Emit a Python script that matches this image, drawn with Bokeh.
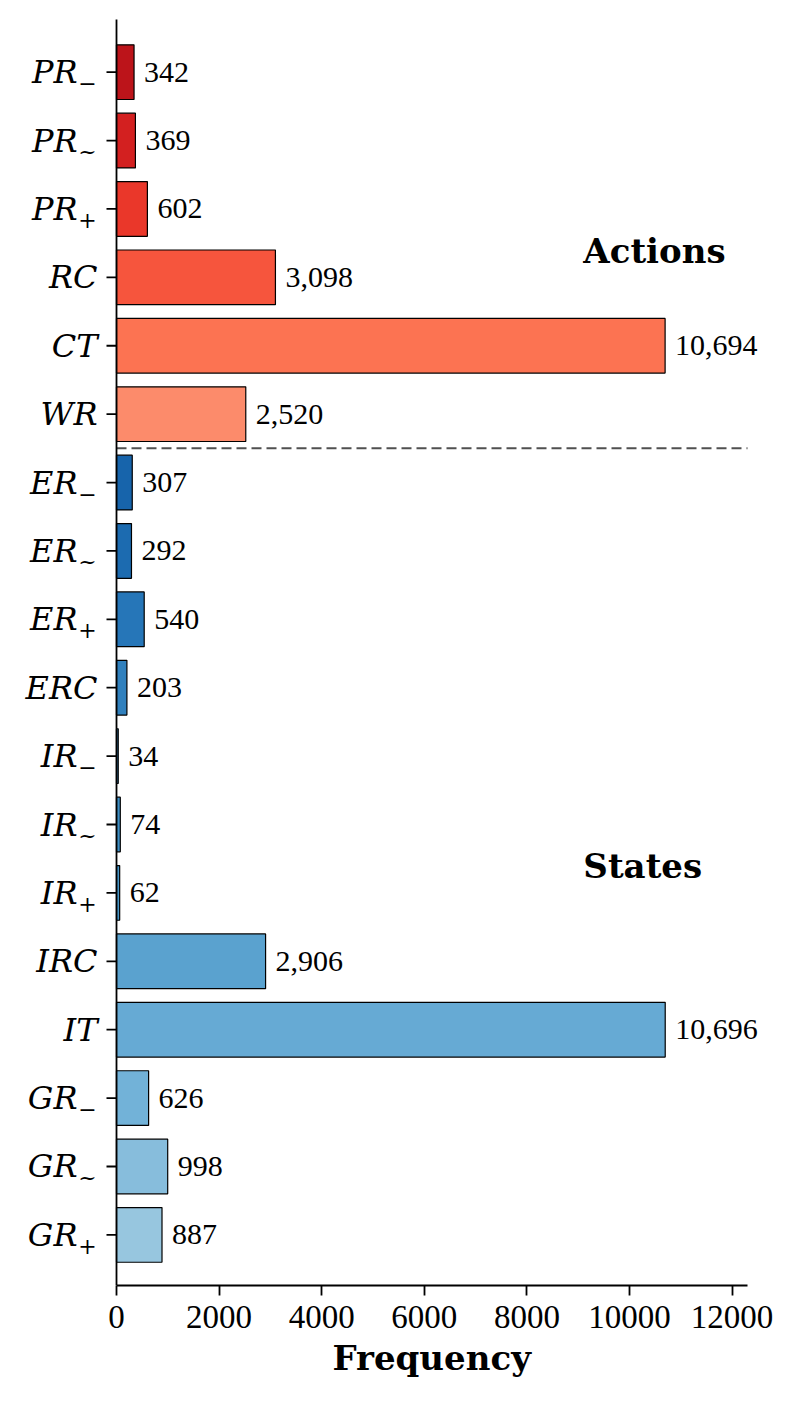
import math
from bokeh.plotting import figure
from bokeh.models import ColumnDataSource, Range1d, FixedTicker, Title
from bokeh.core.properties import value
from bokeh.embed import file_html
from bokeh.resources import INLINE

# ---- data ----
labels_base = ["PR", "PR", "PR", "RC", "CT", "WR",
               "ER", "ER", "ER", "ERC", "IR", "IR", "IR", "IRC", "IT", "GR", "GR", "GR"]
labels_sub = ["\u2212", "~", "+", "", "", "",
              "\u2212", "~", "+", "", "\u2212", "~", "+", "", "", "\u2212", "~", "+"]
values = [342, 369, 602, 3098, 10694, 2520,
          307, 292, 540, 203, 34, 74, 62, 2906, 10696, 626, 998, 887]
colors = ["#bc141a", "#d32020", "#ea372a", "#f6553d", "#fc7352", "#fc8b6b",
          "#1764ab", "#1c6bb0", "#2676b8", "#3080bd", "#3787c0", "#3e8ec4",
          "#4695c8", "#5aa2cf", "#66aad4", "#72b2d8", "#87bddc", "#97c6df"]
x_ticks = [0, 2000, 4000, 6000, 8000, 10000, 12000]
group_names = ["Actions", "States"]
group_pos = [2.61, 11.6]
n_actions = 6

NUM_FONT = "Liberation Serif"
LAB_FONT = "DejaVu Serif"

# ---- geometry (pixels) ----
W, H = 792, 1400
PX_L, PX_R, X_MAX = 116, 747, 12300
PY_T, PY_B = 19, 1285
Y_TOP, Y_BOT = -0.77, 17.74
kx = (PX_R - PX_L) / X_MAX
ky = (PY_B - PY_T) / (Y_BOT - Y_TOP)

idx = list(range(len(values)))
has_sub = [s != "" for s in labels_sub]
n = len(values)
source = ColumnDataSource(dict(
    y=idx,
    v=values,
    zero=[0] * n,
    color=colors,
    vtxt=[f"{v:,}" for v in values],
    base=labels_base,
    sub=labels_sub,
    base_off=[-39 if h else -19 for h in has_sub],
))

p = figure(width=W, height=H,
           frame_width=W, frame_height=PY_B,
           min_border_left=0, min_border_right=0, min_border_top=0,
           min_border_bottom=H - PY_B,
           x_range=Range1d(-PX_L / kx, (W - PX_L) / kx),
           y_range=Range1d(Y_BOT, Y_TOP - PY_T / ky),
           output_backend="svg", toolbar_location=None)

p.hbar(y="y", left="zero", right="v", height=0.8, source=source,
       fill_color="color", line_color="black", line_width=1.2)

# separator between groups
p.segment(x0=[0], x1=[X_MAX], y0=[n_actions - 0.5], y1=[n_actions - 0.5],
          line_color="#505050", line_width=2, line_dash="10 5")

# left spine and ticks
p.segment(x0=[0], x1=[0], y0=[Y_BOT], y1=[Y_TOP], line_color="black", line_width=1.8)
p.ray(x="zero", y="y", length=10, length_units="screen", angle=math.pi,
      source=source, line_color="black", line_width=1.8)

# value labels
p.text(x="v", y="y", text="vtxt", source=source, x_offset=10,
       text_baseline="middle", text_align="left",
       text_font=value(NUM_FONT), text_font_size="30px", text_color="black")

# category labels: italic base + subscript
p.text(x="zero", y="y", text="base", source=source, x_offset="base_off",
       text_baseline="middle", text_align="right",
       text_font=value(LAB_FONT), text_font_style="italic", text_font_size="32px",
       text_color="black")
p.text(x="zero", y="y", text="sub", source=source, x_offset=-29, y_offset=11,
       text_baseline="alphabetic", text_align="center",
       text_font=value(LAB_FONT), text_font_size="22px", text_color="black")

# group titles
p.text(x=[9100, 9100], y=group_pos, text=group_names, text_baseline="alphabetic",
       text_align="left", text_font=value(LAB_FONT), text_font_style="bold",
       text_font_size="34px", text_color="black")

# x axis
p.yaxis.visible = False
p.xaxis.bounds = (0, X_MAX)
p.xaxis.ticker = FixedTicker(ticks=x_ticks)
p.xaxis.major_label_text_font = NUM_FONT
p.xaxis.major_label_text_font_size = "33px"
p.xaxis.major_label_text_color = "black"
p.xaxis.major_label_standoff = 10
p.xaxis.axis_line_width = 1.8
p.xaxis.axis_line_color = "black"
p.xaxis.major_tick_line_width = 1.8
p.xaxis.major_tick_line_color = "black"
p.xaxis.major_tick_out = 10
p.xaxis.major_tick_in = 0
p.xaxis.minor_tick_line_color = None

# x axis title, placed over the data extent
p.add_layout(Title(text="Frequency", align="left", offset=332, standoff=11,
                   text_font=LAB_FONT, text_font_style="bold",
                   text_font_size="34px", text_color="black"), "below")

p.xgrid.grid_line_color = None
p.ygrid.grid_line_color = None
p.outline_line_color = None
p.background_fill_color = "white"
p.border_fill_color = "white"

open("out.html", "w").write(file_html(p, INLINE))
